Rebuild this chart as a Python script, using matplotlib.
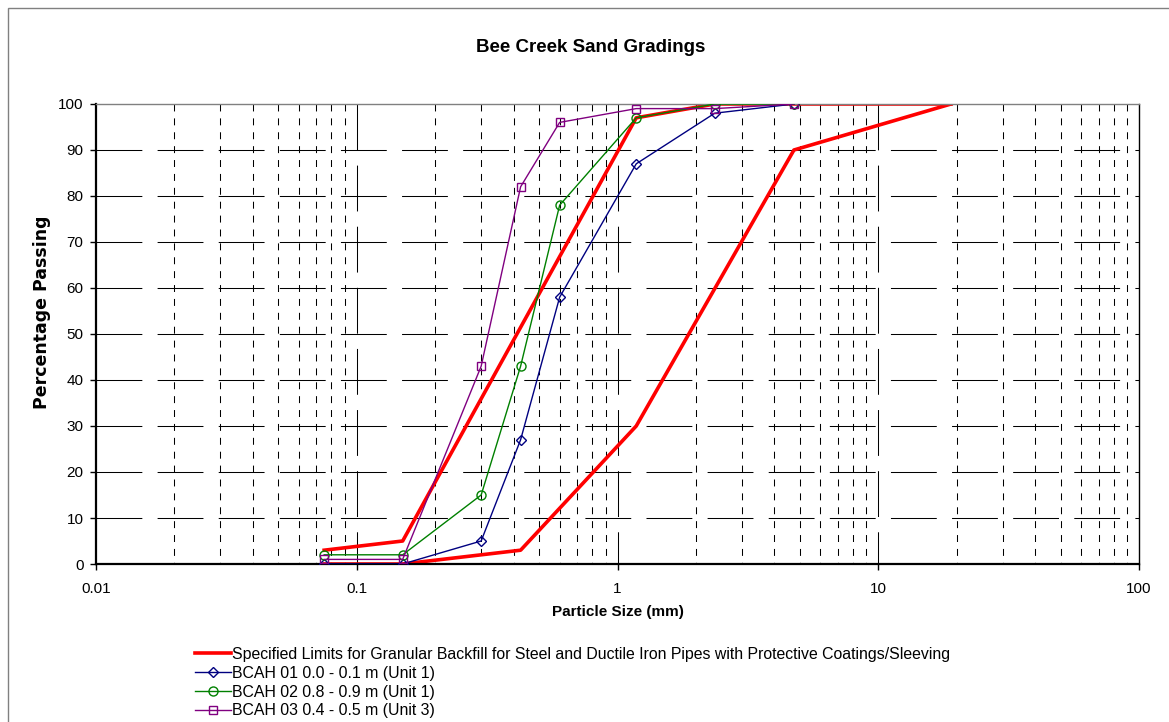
import matplotlib
matplotlib.use("Agg")
import matplotlib.pyplot as plt
from matplotlib.patches import Rectangle
import numpy as np

plt.rcParams['font.family'] = ['Liberation Sans', 'DejaVu Sans']
plt.rcParams['lines.scale_dashes'] = False

# ---- data ----
sieve_sizes = [0.075, 0.15, 0.3, 0.425, 0.6, 1.18, 2.36, 4.75]
bcah01 = [0, 0, 5, 27, 58, 87, 98, 100]
bcah02 = [2, 2, 15, 43, 78, 97, 100, 100]
bcah03 = [1, 1, 43, 82, 96, 99, 99, 100]

upper_sizes = [0.075, 0.15, 1.18, 2.36, 19]
upper_pass = [3, 5, 97, 100, 100]
lower_sizes = [0.075, 0.15, 0.425, 1.18, 4.75, 19]
lower_pass = [0, 0, 3, 30, 90, 100]

x_ticks = [0.01, 0.1, 1, 10, 100]
x_tick_labels = ["0.01", "0.1", "1", "10", "100"]
y_ticks = list(range(0, 101, 10))

spec_label = "Specified Limits for Granular Backfill for Steel and Ductile Iron Pipes with Protective Coatings/Sleeving"
series_labels = ["BCAH 01 0.0 - 0.1 m (Unit 1)",
                 "BCAH 02 0.8 - 0.9 m (Unit 1)",
                 "BCAH 03 0.4 - 0.5 m (Unit 3)"]

W, H = 1169, 722
fig = plt.figure(figsize=(W / 100, H / 100), dpi=100)
fig.patch.set_facecolor('white')

# chart-area border
fig.patches.append(Rectangle((8 / W, -0.1), 1.2, (H - 8) / H + 0.1,
                             transform=fig.transFigure, fill=False,
                             edgecolor='#808080', linewidth=1.0))

ax_l, ax_r, ax_t, ax_b = 96, 1139, 104, 564
ax = fig.add_axes([ax_l / W, 1 - ax_b / H, (ax_r - ax_l) / W, (ax_b - ax_t) / H])
ax.set_xscale('log')
ax.set_xlim(0.01, 100)
ax.set_ylim(0, 100)

# grid lines
long_dash = (0, (33, 11))
short_dash = (0, (5, 5))
for y in y_ticks[1:-1]:
    ax.hlines(y, 0.01, 100, colors='black', linewidth=0.75, linestyles=[long_dash], zorder=1)
for dec in [0.01, 0.1, 1, 10]:
    for m in range(2, 10):
        ax.vlines(dec * m, 100, 0, colors='black', linewidth=0.75, linestyles=[short_dash], zorder=1)
for xv in [0.1, 1, 10]:
    ax.vlines(xv, 100, 0, colors='black', linewidth=0.75, linestyles=[long_dash], zorder=1)

# specified limits
ax.plot(upper_sizes, upper_pass, color='#FF0000', linewidth=2.6, label=spec_label, zorder=2)
ax.plot(lower_sizes, lower_pass, color='#FF0000', linewidth=2.6, zorder=2)

ax.plot(sieve_sizes, bcah01, color='#000080', linewidth=1.0, marker='D', markersize=5.0,
        markerfacecolor='none', markeredgecolor='#000080', markeredgewidth=1.0,
        label=series_labels[0], zorder=3)
ax.plot(sieve_sizes, bcah02, color='#008000', linewidth=1.0, marker='o', markersize=6.5,
        markerfacecolor='none', markeredgecolor='#008000', markeredgewidth=1.0,
        label=series_labels[1], zorder=3)
ax.plot(sieve_sizes, bcah03, color='#800080', linewidth=1.0, marker='s', markersize=6.0,
        markerfacecolor='none', markeredgecolor='#800080', markeredgewidth=1.0,
        label=series_labels[2], zorder=3)

# spines
ax.spines['left'].set_linewidth(1.6)
ax.spines['bottom'].set_linewidth(1.6)
ax.spines['left'].set_color('black')
ax.spines['bottom'].set_color('black')
ax.spines['top'].set_color('#808080')
ax.spines['top'].set_linewidth(1.0)
ax.spines['right'].set_color('black')
ax.spines['right'].set_linewidth(1.0)

ax.set_xticks(x_ticks)
ax.set_xticklabels(x_tick_labels)
ax.xaxis.set_minor_locator(matplotlib.ticker.NullLocator())
ax.set_yticks(y_ticks)
ax.tick_params(axis='x', direction='out', length=4, width=1.0, pad=9, labelsize=11)
ax.tick_params(axis='y', direction='out', length=4, width=1.0, pad=5, labelsize=11)

fig.text(591 / W, 1 - 48 / H, "Bee Creek Sand Gradings", ha='center', va='center',
         fontsize=13.5, fontweight='bold')
fig.text(618 / W, 1 - 612 / H, "Particle Size (mm)", ha='center', va='center',
         fontsize=11, fontweight='bold')
fig.text(42 / W, 1 - 312 / H, "Percentage Passing", ha='center', va='center',
         rotation=90, fontsize=12.5, fontweight='bold', family=['DejaVu Sans'])

leg = fig.legend(loc='upper left', bbox_to_anchor=(195 / W, 1 - 647 / H),
                 frameon=False, fontsize=11.4, handlelength=2.25, handletextpad=0.1,
                 labelspacing=0.24, borderpad=0, borderaxespad=0, numpoints=1)

fig.savefig("out.png", dpi=100, facecolor='white')
